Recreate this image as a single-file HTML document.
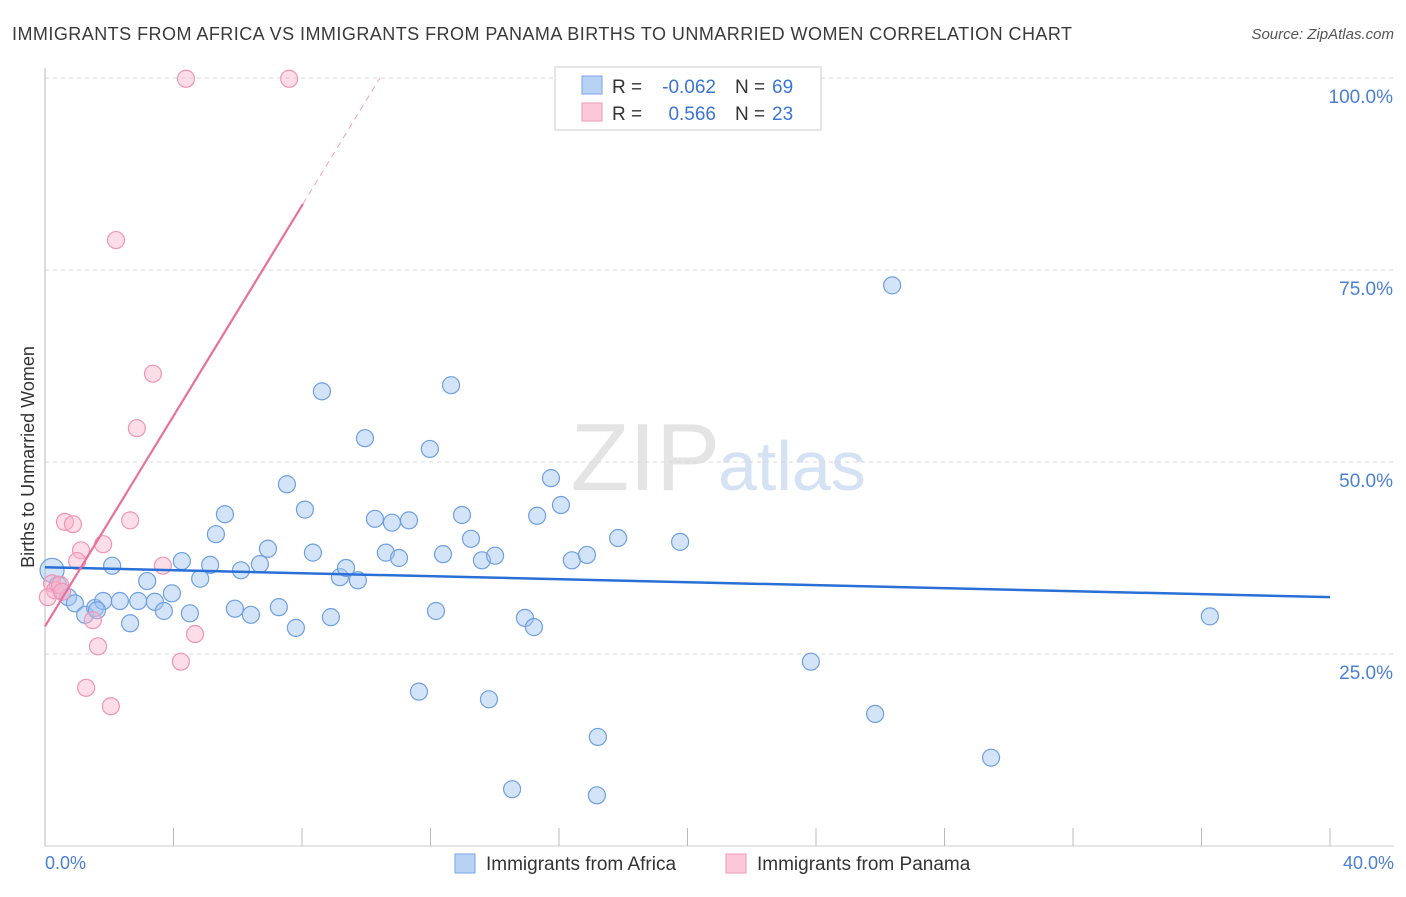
<!DOCTYPE html>
<html><head><meta charset="utf-8"><style>
body{margin:0;background:#fff;font-family:"Liberation Sans",sans-serif;}
svg text{font-family:"Liberation Sans",sans-serif;}
</style></head><body>
<svg id="chart" width="1406" height="892" xmlns="http://www.w3.org/2000/svg">
<text x="12" y="40" font-size="18" fill="#3a3a3a" textLength="1060">IMMIGRANTS FROM AFRICA VS IMMIGRANTS FROM PANAMA BIRTHS TO UNMARRIED WOMEN CORRELATION CHART</text>
<text x="1394" y="39" font-size="15" fill="#555" text-anchor="end" font-style="italic">Source: ZipAtlas.com</text>
<text x="720" y="490" font-size="96" fill="#e4e4e4" text-anchor="end" font-family="Liberation Serif">ZIP</text>
<text x="718" y="490" font-size="70" fill="#d4e2f4">atlas</text>
<g id="grid"></g>
<g id="axes"></g>
<g id="marks"></g>
<text transform="translate(34,457) rotate(-90)" font-size="18" fill="#333" text-anchor="middle">Births to Unmarried Women</text>
<text x="45" y="869" font-size="18" fill="#4a7fd4">0.0%</text>
<text x="1394" y="869" font-size="18" fill="#4a7fd4" text-anchor="end">40.0%</text>
<g>
<rect x="555" y="67" width="266" height="63" fill="#fff" stroke="#ccc"/>
<rect x="582" y="76" width="20" height="18" fill="#b8d2f4" stroke="#7aa6e6"/>
<rect x="582" y="103" width="20" height="18" fill="#fac8d8" stroke="#f09ab6"/>
<text x="612" y="93" font-size="19" fill="#333">R =</text>
<text x="716" y="93" font-size="19" fill="#3b74d4" text-anchor="end">-0.062</text>
<text x="735" y="93" font-size="19" fill="#333">N =</text>
<text x="772" y="93" font-size="19" fill="#3b74d4">69</text>
<text x="612" y="120" font-size="19" fill="#333">R =</text>
<text x="716" y="120" font-size="19" fill="#3b74d4" text-anchor="end">0.566</text>
<text x="735" y="120" font-size="19" fill="#333">N =</text>
<text x="772" y="120" font-size="19" fill="#3b74d4">23</text>
</g>
<g>
<rect x="455" y="854" width="20" height="19" fill="#b8d2f4" stroke="#7aa6e6"/>
<text x="486" y="870" font-size="19" fill="#333">Immigrants from Africa</text>
<rect x="726" y="854" width="20" height="19" fill="#fac8d8" stroke="#f09ab6"/>
<text x="757" y="870" font-size="19" fill="#333">Immigrants from Panama</text>
</g>
</svg>
<script>
const yTicks=[25,50,75,100];
const yTickLabels=["25.0%","50.0%","75.0%","100.0%"];
const xTicks=[0,4,8,12,16,20,24,28,32,36,40];
const africaX=[0.22,0.40,0.53,0.72,0.93,1.25,1.56,1.81,2.09,2.33,2.65,2.90,3.18,3.42,3.70,3.95,4.26,4.51,4.83,5.14,5.32,5.60,5.91,6.10,6.41,6.69,6.94,7.28,7.53,7.81,8.09,8.34,8.62,8.90,9.18,9.37,9.74,9.96,10.27,10.61,10.80,11.02,11.33,11.64,11.98,12.17,12.39,12.64,12.98,13.26,13.60,14.01,13.82,14.54,14.94,15.22,15.32,15.75,16.06,16.40,16.87,17.21,17.18,17.84,19.77,23.84,25.84,26.37,29.45,36.26,1.62];
const africaY=[35.9,34.0,33.1,32.4,31.6,30.1,31.0,31.9,36.5,31.9,29.0,31.9,34.5,31.8,30.6,32.9,37.1,30.3,34.8,36.6,40.6,43.2,30.9,35.9,30.1,36.7,38.7,31.1,47.1,28.4,43.8,38.2,59.2,29.8,35.0,36.2,34.6,53.1,42.6,38.2,42.1,37.5,42.4,20.1,51.7,30.6,38.0,60.0,43.1,40.0,37.2,37.8,19.1,7.4,29.7,28.5,43.0,47.9,44.4,37.2,37.9,14.2,6.6,40.1,39.6,24.0,17.2,73.0,11.5,29.9,30.7];
const panamaX=[4.39,7.60,2.21,3.36,2.86,0.62,0.87,2.65,1.81,1.12,1.00,3.67,0.22,0.31,0.09,0.47,1.49,4.67,1.65,4.23,1.28,2.05,0.53];
const panamaY=[99.9,99.9,78.9,61.5,54.4,42.2,41.9,42.4,39.3,38.5,37.1,36.5,34.2,33.3,32.4,34.0,29.4,27.6,26.0,24.0,20.6,18.2,33.1];
const africaTrend=[36.3,32.4];
const panamaTrend=[28.6,6.85];
const NS="http://www.w3.org/2000/svg";
const X=v=>45+v*1285/40, Y=v=>846-v*768/100;
function mk(t,a,p){const e=document.createElementNS(NS,t);for(const k in a)e.setAttribute(k,a[k]);p.appendChild(e);return e;}
const grid=document.getElementById('grid'),axes=document.getElementById('axes'),marks=document.getElementById('marks');
yTicks.forEach((t,i)=>{
 const l=mk('line',{x1:45,x2:1394,y1:Y(t),y2:Y(t),stroke:'#d8d8d8','stroke-dasharray':'4,4'},grid);
 
 
 const tx=mk('text',{x:1393,y:Y(t)+25,'font-size':19,fill:'#4a7fd4','text-anchor':'end'},grid);
 tx.textContent=yTickLabels[i];
 
 
});
const ax=mk('line',{x1:45,x2:45,y1:68,y2:846,stroke:'#bbb'},axes);


const bx=mk('line',{x1:45,x2:1394,y1:846,y2:846,stroke:'#ccc'},axes);


xTicks.forEach(t=>{const l=mk('line',{x1:X(t),x2:X(t),y1:828,y2:846,stroke:'#bbb'},axes);
 
 });
africaX.forEach((x,i)=>{const c=mk('circle',{cx:X(x),cy:Y(africaY[i]),r:i==0?12:8.5,fill:'rgba(160,195,240,0.45)',stroke:'#6f9fe0','stroke-width':1.2},marks);
 
 });
panamaX.forEach((x,i)=>{const c=mk('circle',{cx:X(x),cy:Y(panamaY[i]),r:8.5,fill:'rgba(248,180,205,0.45)',stroke:'#f095b5','stroke-width':1.2},marks);
 
 });
const bt=mk('line',{x1:X(0),y1:Y(africaTrend[0]),x2:X(40),y2:Y(africaTrend[1]),stroke:'#2a6fd6','stroke-width':2.5},marks);


const pEnd=8.03,pEnd2=(100-panamaTrend[0])/panamaTrend[1];
const pt=mk('line',{x1:X(0),y1:Y(panamaTrend[0]),x2:X(pEnd),y2:Y(panamaTrend[0]+panamaTrend[1]*pEnd),stroke:'#e8709a','stroke-width':2.2},marks);


const pd=mk('line',{x1:X(pEnd),y1:Y(panamaTrend[0]+panamaTrend[1]*pEnd),x2:X(pEnd2),y2:Y(100),stroke:'#f0a0bc','stroke-width':1,'stroke-dasharray':'6,5'},marks);


</script>
</body></html>
